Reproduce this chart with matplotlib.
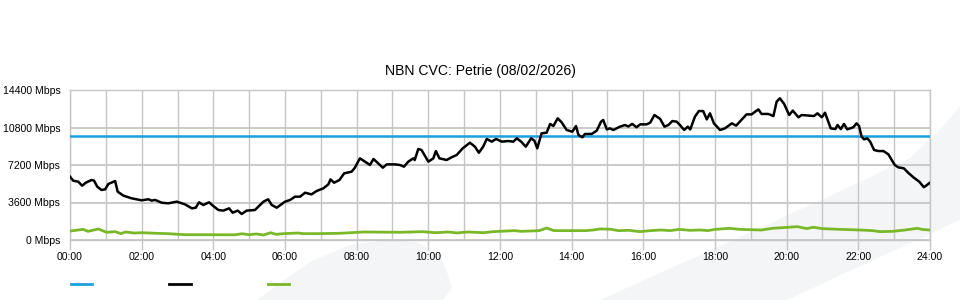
import matplotlib
matplotlib.use("Agg")
import matplotlib.pyplot as plt
from matplotlib.lines import Line2D
from matplotlib.patches import Polygon

plt.rcParams['font.family'] = ['Liberation Sans', 'DejaVu Sans']

title = "NBN CVC: Petrie (08/02/2026)"

# capacity of the CVC (flat line)
cvc_capacity = 10000

# download traffic (hours, Mbps)
dl_hours = [0.0, 0.09, 0.23, 0.34, 0.44, 0.6, 0.67, 0.76, 0.88, 0.98, 1.07, 1.26, 1.33, 1.49,
            1.72, 2.0, 2.19, 2.28, 2.37, 2.56, 2.74, 2.98, 3.21, 3.4, 3.51, 3.6, 3.72, 3.88,
            4.0, 4.14, 4.28, 4.44, 4.54, 4.68, 4.79, 4.93, 5.16, 5.4, 5.53, 5.63, 5.77, 5.91,
            6.0, 6.14, 6.28, 6.42, 6.56, 6.74, 6.88, 7.07, 7.21, 7.27, 7.37, 7.52, 7.65, 7.86,
            7.95, 8.09, 8.26, 8.37, 8.47, 8.6, 8.73, 8.84, 9.07, 9.21, 9.32, 9.44, 9.58, 9.62,
            9.72, 9.81, 10.0, 10.14, 10.21, 10.31, 10.51, 10.65, 10.79, 10.96, 11.16, 11.3,
            11.41, 11.53, 11.63, 11.77, 11.89, 12.05, 12.23, 12.37, 12.47, 12.59, 12.72,
            12.87, 12.96, 13.04, 13.16, 13.3, 13.4, 13.49, 13.61, 13.72, 13.86, 14.02, 14.12,
            14.19, 14.3, 14.37, 14.56, 14.7, 14.82, 14.88, 14.98, 15.07, 15.16, 15.35, 15.49,
            15.58, 15.69, 15.81, 15.91, 16.09, 16.19, 16.31, 16.47, 16.59, 16.7, 16.81, 16.93,
            17.02, 17.14, 17.24, 17.31, 17.44, 17.55, 17.67, 17.77, 17.86, 17.97, 18.14,
            18.28, 18.47, 18.59, 18.75, 18.88, 19.02, 19.21, 19.3, 19.49, 19.63, 19.72, 19.81,
            19.93, 20.07, 20.17, 20.33, 20.42, 20.58, 20.76, 20.86, 20.98, 21.07, 21.23,
            21.36, 21.42, 21.51, 21.6, 21.69, 21.86, 21.95, 22.02, 22.09, 22.16, 22.25, 22.33,
            22.44, 22.56, 22.7, 22.84, 22.96, 23.02, 23.11, 23.27, 23.39, 23.55, 23.7, 23.83,
            23.95, 24.0]
dl_mbps = [6080, 5690, 5600, 5210, 5500, 5760, 5700, 5120, 4800, 4860, 5380, 5660, 4640, 4260,
           4000, 3810, 3910, 3780, 3850, 3580, 3520, 3680, 3420, 3040, 3100, 3620, 3360, 3620,
           3260, 2880, 2820, 3040, 2620, 2820, 2500, 2820, 2880, 3680, 3910, 3360, 3100, 3460,
           3680, 3840, 4160, 4160, 4540, 4380, 4700, 4960, 5340, 5820, 5500, 5760, 6400, 6560,
           6940, 7840, 7460, 7200, 7780, 7360, 6940, 7260, 7260, 7200, 7040, 7520, 7840, 7680,
           8740, 8640, 7520, 7840, 8540, 7840, 7680, 7940, 8160, 8800, 9340, 8960,
           8380, 8960, 9700, 9440, 9700, 9440, 9500, 9440, 9760, 9440, 8960,
           9760, 9540, 8800, 10240, 10300, 11140, 10940, 11680, 11300, 10560, 10400, 10940,
           10080, 9860, 10180, 10180, 10500, 11360, 11520, 10620, 10720, 10560, 10880, 11040,
           10900, 11140, 10820, 11100, 11100, 11260, 12000, 11620, 10880, 11040, 11420, 11360,
           11040, 10560, 10880, 10620, 11840, 12380, 12380, 11580, 12160, 11200, 10560,
           10720, 11200, 10980, 11580, 12060, 12060, 12540, 12100, 12100, 11900, 13280, 13600,
           13060, 12000, 12420, 11780, 12000, 11950, 11900, 12160, 11780, 12220, 10720,
           10650, 11040, 10650, 11140, 10620, 10820, 11200, 10940, 9920, 9660, 9760, 9440,
           8640, 8540, 8540, 8220, 7520, 7200, 6980, 6880, 6460, 5980, 5600, 5060,
           5380, 5500]

# upload traffic (hours, Mbps)
ul_hours = [0.0, 0.37, 0.5, 0.79, 1.02, 1.26, 1.42, 1.55, 1.79, 2.0, 2.35, 2.72, 3.2, 4.6, 4.8,
            5.0, 5.2, 5.4, 5.6, 5.75, 5.95, 6.37, 6.5, 6.9, 7.5, 8.2, 9.2, 9.85, 10.2, 10.55,
            10.8, 11.1, 11.55, 11.8, 12.4, 12.6, 13.1, 13.3, 13.5, 14.4, 14.6, 14.8, 15.1,
            15.3, 15.6, 15.9, 16.2, 16.5, 16.75, 17.0, 17.3, 17.6, 17.8, 18.0, 18.4, 18.7,
            19.3, 19.6, 20.3, 20.55, 20.75, 21.0, 21.5, 22.05, 22.4, 22.6, 22.95, 23.3,
            23.65, 23.8, 24.0]
ul_mbps = [860, 1020, 830, 1060, 740, 800, 610, 770, 670, 700, 650, 610, 510, 500, 600,
           510, 580, 480, 700, 540, 610, 670, 610, 610, 640, 770, 740, 800, 700, 770,
           680, 770, 700, 800, 900, 830, 900, 1150, 900, 900, 960, 1060, 1030,
           900, 930, 800, 900, 960, 900, 1020, 930, 960, 900, 1020, 1120, 1020,
           960, 1120, 1280, 1100, 1220, 1090, 1020, 960, 900, 800, 830, 960,
           1120, 1000, 960]

y_ticks = [0, 3600, 7200, 10800, 14400]
x_ticks = list(range(0, 25, 2))

blue = '#1ea0e0'
green = '#7ab829'
grid_col = '#c6c6c6'

fig = plt.figure(figsize=(9.6, 3.0), dpi=100)
fig.patch.set_facecolor('white')

# faint watermark shapes in the background
W, H = 960.0, 300.0
def frac(pts):
    return [(x / W, 1 - y / H) for x, y in pts]

band = [(600, 300), (760, 228), (860, 182), (910, 158), (940, 130), (960, 106),
        (960, 220), (787, 300)]
blob = [(257, 300), (280, 283), (310, 262), (350, 245), (387, 240), (417, 242),
        (440, 255), (448, 275), (452, 288), (443, 300)]
for shape in (band, blob):
    fig.add_artist(Polygon(frac(shape), closed=True, transform=fig.transFigure,
                           facecolor='#f4f5f7', edgecolor='none', zorder=0))

ax = fig.add_axes([70 / W, 60 / H, 860 / W, 150 / H])
ax.set_facecolor('none')

ax.plot(dl_hours, dl_mbps, color='black', lw=1.8, zorder=4)
ax.plot(ul_hours, ul_mbps, color=green, lw=2.0, zorder=3)
ax.axhline(cvc_capacity, color=blue, lw=1.8, zorder=3)

ax.set_xlim(0, 24)
ax.set_ylim(0, 14400)
ax.set_xticks(x_ticks)
ax.set_xticklabels(['%02d:00' % h for h in x_ticks])
ax.set_xticks(range(0, 25), minor=True)
ax.set_yticks(y_ticks)
ax.set_yticklabels(['%d Mbps' % v for v in y_ticks])

ax.grid(True, which='both', axis='x', color=grid_col, lw=1.0)
ax.grid(True, axis='y', color=grid_col, lw=1.3)
ax.set_axisbelow(True)
for s in ax.spines.values():
    s.set_color(grid_col)
    s.set_linewidth(1.0)

ax.tick_params(axis='x', which='major', length=7, width=1, color=grid_col,
               labelsize=7.6, pad=2)
ax.tick_params(axis='x', which='minor', length=0)
ax.tick_params(axis='y', length=0, labelsize=7.6, pad=7)

fig.text(480 / W, 1 - 71 / H, title, ha='center', va='center', fontsize=10.1)

handles = [Line2D([], [], color=blue, lw=2),
           Line2D([], [], color='black', lw=2),
           Line2D([], [], color=green, lw=2)]
fig.legend(handles, ['', '', ''], loc='center left', bbox_to_anchor=(66 / W, 1 - 285 / H),
           ncol=3, frameon=False, fontsize=7.6, handlelength=2.0, handletextpad=0.8,
           columnspacing=6.5, borderpad=0)

fig.savefig('out.png', dpi=100)
